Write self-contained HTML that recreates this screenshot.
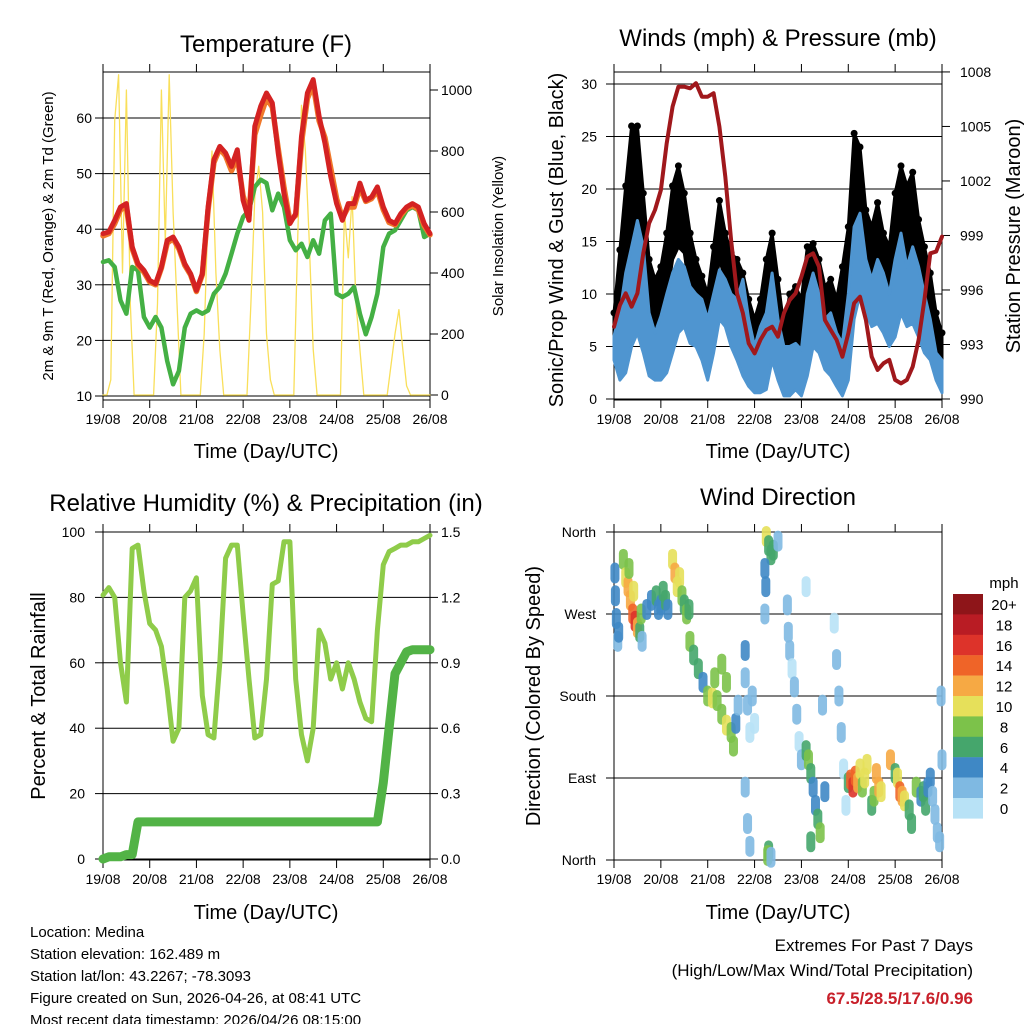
<!DOCTYPE html>
<html><head><meta charset="utf-8"><style>
html,body{margin:0;padding:0;background:#fff;}
svg{display:block;font-family:"Liberation Sans",sans-serif;}
</style></head><body>
<svg id="chart" width="1024" height="1024" viewBox="0 0 1024 1024" xmlns="http://www.w3.org/2000/svg"></svg>
<script>
// ---------- DATA (3-hourly, t = k/8 days from 19/08 00 UTC) ----------
const dayLabels = ["19/08","20/08","21/08","22/08","23/08","24/08","25/08","26/08"];
const tempRed = [39.2,39.5,41.6,44,44.6,36.8,33.8,32.6,30.8,30.2,33.2,38,38.6,36.8,33.8,32,29,32,44,52.5,54.9,53.7,51.3,54.3,45.2,41.6,58.5,62.1,64.5,62.7,53.7,46.4,41,42.8,56.7,64.5,66.9,60.3,55.5,49.5,44.6,41.6,44.6,44.6,48.3,45.2,45.8,47.6,44,41.6,41,42.8,44,44.6,44,41,39.2];
const tempOrange = [38.8,39.2,41,43.5,44,36.5,33.5,32.3,30.5,30,33,37.5,38.3,36.5,33.5,31.8,28.8,31.8,43.5,52,54.5,53.2,50.5,53,46,42.5,57,60.5,63.5,62,54.5,47.5,41.5,42.5,55.5,63.5,66,59.5,56.5,51,45.5,42,44,44,47.5,45,45.5,47,43.5,41.2,40.8,42.5,43.8,44.2,43.6,40.6,39];
const dewGreen = [34.1,34.4,33.2,27.2,24.8,33.2,32.6,24.2,22.3,24.2,22.3,16.3,12.1,14.5,22.3,24.8,25.4,24.8,25.4,28.4,29.6,32,35.6,39.2,42.2,43.4,47.6,48.9,48.3,43.4,46.4,44,38,36.2,37.4,35,38,35.6,41.6,42.8,28.4,27.8,28.4,29.6,24.8,21.1,24.2,28.4,36.8,39.2,39.8,41.6,43.4,44,43.4,38.6,39.2];
// solar insolation, 2-hourly (t = k/12)
const solar = [0,0,50,900,1050,400,1000,300,0,0,0,0, 0,0,300,1000,500,1050,600,300,0,0,0,0, 0,0,200,600,800,400,150,0,0,0,0,0, 0,0,300,650,750,600,200,50,0,0,0,0, 0,0,500,950,800,500,150,0,0,0,0,0, 0,0,600,450,650,300,150,0,0,0,0,0, 0,0,100,200,280,150,30,0,0,0,0,0, 0];
const pressure = [993.98,995.17,995.82,995.08,995.82,998.02,999.67,1000.4,1001.5,1004.07,1006.09,1007.19,1007.19,1007.1,1007.38,1006.64,1006.64,1006.83,1004.99,1002.24,998.75,995.82,994.72,993.06,992.51,993.25,993.8,993.98,993.43,994.72,995.45,995.82,996.73,997.83,998.02,997.28,994.35,993.8,993.25,992.33,993.61,995.27,995.63,994.35,992.33,991.6,991.96,992.15,991.05,990.86,991.05,991.78,993.25,995.45,998.02,998.11,998.94];
const windHigh = [6,8.2,12,14.5,17,14.5,8.2,6.3,7.9,10,12,13.3,12.6,10.7,10,9.5,7.6,10,12.3,11.4,10,9.5,11.4,7.6,5,6.9,8.2,12,7.6,5,5,5.3,4.7,10,12,10,7.6,8.2,6.3,5.3,10,16.4,17.7,13.3,11.4,13.3,12,10,13.3,15.8,12.6,14.5,12.6,10,7.6,4.4,3.7];
const windLow = [3.7,1.8,2.5,5,6.3,4.4,2.2,1.8,1.8,2.5,4.4,6.3,6.9,5.3,5,3.7,1.8,4.4,7.6,6.9,5,3.7,2.2,1.2,0.6,0.6,0.9,3.7,1.8,0.3,0.3,0.9,0.3,2.2,5,4.4,2.8,2.2,1.2,0.3,1.8,7.6,10,8.2,6.9,7.2,6.3,5,5.9,8.2,6.9,7.2,5.9,4.4,3.7,1.8,0.6];
const gustHigh = [8.2,14.2,20.3,26,26,19.6,13.3,11.4,12.6,15.8,20.3,22.2,19.6,15.8,13.3,11.7,10,14.5,18.9,15.8,13.9,13.3,12,9.5,7.6,9.5,13.3,15.8,11.4,6.9,10,10.7,9.5,14.5,14.8,13.3,10.7,11.4,9.5,12.6,16.4,25.3,24,18,16.4,18.7,15.8,14.5,19.6,22.2,20.3,21.6,17.1,14.5,12,8.2,6.3];
const gustLow = [5,7.6,12,14.5,16.4,12.6,6,6.3,7.6,9.5,13.3,14.5,13.9,10,8.8,7.6,5.3,9.5,13.3,11.4,9.5,8.2,6.3,3.7,1.8,3.1,5.3,8.5,3.7,2.2,3.1,3.7,2.2,6.9,8.8,7.6,5.7,5.3,3.7,3.7,6.9,16.4,15.8,11.4,10,12,10.7,8.8,12,14.5,12.6,13.3,10,8.2,6.3,3.7,1.8];
const rh = [80.7,83,80,60,48,95,96,82,72,70,65,52,36,40,80,82,86,50,38,37,60,92,96,96,75,55,37,38,55,84,85,97,97,55,38,30,40,70,66,55,60,52,60,55,48,43,42,70,90,94,95,96,96,97,97,98,99];
const precip = [0,0.01,0.01,0.01,0.02,0.02,0.17,0.17,0.17,0.17,0.17,0.17,0.17,0.17,0.17,0.17,0.17,0.17,0.17,0.17,0.17,0.17,0.17,0.17,0.17,0.17,0.17,0.17,0.17,0.17,0.17,0.17,0.17,0.17,0.17,0.17,0.17,0.17,0.17,0.17,0.17,0.17,0.17,0.17,0.17,0.17,0.17,0.17,0.35,0.6,0.85,0.9,0.95,0.96,0.96,0.96,0.96];
// wind direction scatter
const dirT = [0.02,0.03,0.05,0.08,0.1, 0.2,0.25,0.3,0.35,0.4,0.45,0.5,0.55,0.42,0.32,0.6,0.58, 0.7,0.8,0.9,0.95,1.0,1.05,1.1,1.15, 1.25,1.3,1.35,1.4,1.45,1.5,1.55,1.6, 1.62,1.7,1.8,1.9,2.0,2.1,2.15,2.2,2.3,2.4,2.5,2.55,2.3,2.4,2.6,2.65, 2.8,2.85,2.9,2.95,3.0,2.8,2.85,2.9,2.8, 3.25,3.3,3.35,3.22,3.24,3.4,3.5,3.22,3.3,3.28,3.35, 3.7,3.75,3.8,3.85,3.9,3.95,4.0,4.1,3.72, 4.1,4.15,4.2,4.25,4.3,4.35,4.4,4.5,4.45,4.2, 4.7,4.75,4.8,4.85,4.9,4.95, 5.0,5.05,5.1,5.15,5.2,5.25,5.3,5.35,5.4,5.5,5.55,5.6,5.65,5.7, 5.9,6.0,6.05,6.1,6.15,6.2,6.3,6.35,6.45,6.55, 6.6,6.65,6.7,6.75,6.8,6.85,6.9,6.95,7.0,6.98];
const dirDeg = [315,290,265,240,250, 330,310,300,285,270,262,255,250,295,320,240,270, 275,285,290,275,280,295,285,275, 330,315,300,310,290,280,270,275, 240,225,210,195,180,178,200,175,160,148,140,125,215,195,150,170, 200,170,140,180,150,80,40,15,230, 355,345,335,320,300,340,350,270,10,5,3, 280,230,210,190,160,130,110,300,250, 120,110,95,80,60,45,30,75,170,20, 260,220,180,140,100,60, 85,88,80,92,85,100,80,90,105,60,70,95,80,75, 110,95,90,75,70,65,55,40,80,70, 75,60,80,90,70,50,30,20,110,180];
const dirSpd = [4,4,4,3,4, 8,10,12,13,14,17,12,6,11,9,2,8, 4,5,6,4,5,6,6,4, 11,12,10,10,8,6,8,6, 8,7,6,4,8,10,9,8,8,10,8,8,8,9,4,3, 2,2,1,2,1,2,2,2,4, 10,7,6,4,4,6,2,3,6,8,2, 2,2,1,2,2,1,2,1,2, 7,8,6,5,4,7,8,4,3,6, 1,2,2,2,1,1, 6,14,17,15,12,10,8,10,11,6,8,12,13,10, 12,6,10,14,13,10,6,6,8,5, 7,6,4,4,3,3,2,2,2,3];
const speedBins = ["0","2","4","6","8","10","12","14","16","18","20+"];
const speedColors = ["#b8e2f6","#7fb9e2","#3f88c5","#45a66c","#7cc24a","#e6e05a","#f6a944","#ef6428","#dd332a","#b91c24","#8e1519"];

// ---------- helpers ----------
const NS="http://www.w3.org/2000/svg";
const svg=document.getElementById('chart');
function mk(tag,attrs,parent){const e=document.createElementNS(NS,tag);for(const k in attrs)e.setAttribute(k,attrs[k]);(parent||svg).appendChild(e);return e;}
function txt(s,x,y,size,anchor,parent,extra){const e=mk('text',Object.assign({x:x,y:y,'font-size':size,'text-anchor':anchor||'middle',fill:'#000'},extra||{}),parent);e.textContent=s;return e;}
function tx(p,t){return p.x0+t/7*(p.x1-p.x0);}

const P1={x0:103,x1:430,y0:72,y1:400}, P2={x0:614,x1:942,y0:72,y1:400}, P3={x0:103,x1:430,y0:532,y1:860}, P4={x0:614,x1:942,y0:532,y1:860};
const yT=v=>396-(v-10)*5.56, yS=v=>395-v*0.305, yW=v=>399-v*10.5, yP=v=>399-(v-990)*18.17, yRH=v=>859-v*3.27, yPr=v=>859-v*218, yD=v=>860-v/360*328;

function frame(p,name){
  const g=mk('g',{});
  
  
  mk('rect',{x:p.x0,y:p.y0,width:p.x1-p.x0,height:p.y1-p.y0,fill:'none',stroke:'#000','stroke-width':1},g);
  for(let d=0;d<=7;d++){const x=tx(p,d);
    mk('line',{x1:x,x2:x,y1:p.y1,y2:p.y1+8,stroke:'#000'},g);
    mk('line',{x1:x,x2:x,y1:p.y0,y2:p.y0-8,stroke:'#000'},g);
    const l=txt(dayLabels[d],x,p.y1+24,14,'middle',g);
    
    
  }
  return g;
}
function hgrid(p,ys,g,color){ys.forEach(y=>mk('line',{x1:p.x0,x2:p.x1,y1:y,y2:y,stroke:color||'#000','stroke-width':1},g));}
function ticksLeft(p,vals,fy,labels,g,lx){vals.forEach((v,i)=>{const y=fy(v);mk('line',{x1:p.x0-8,x2:p.x0,y1:y,y2:y,stroke:'#000'},g);const l=txt(labels[i],lx,y+5,14,'end',g);});}
function ticksRight(p,vals,fy,labels,g,lx){vals.forEach((v,i)=>{const y=fy(v);mk('line',{x1:p.x1,x2:p.x1+8,y1:y,y2:y,stroke:'#000'},g);const l=txt(labels[i],lx,y+5,14,'start',g);});}
function line(p,arr,fy,step,color,w,name){const pts=arr.map((v,i)=>tx(p,i*step).toFixed(1)+','+fy(v).toFixed(1)).join(' ');const e=mk('polyline',{points:pts,fill:'none',stroke:color,'stroke-width':w,'stroke-linejoin':'round','stroke-linecap':'round'});return e;}
function band(p,hi,lo,fy,step,color,name){let pts=hi.map((v,i)=>tx(p,i*step).toFixed(1)+','+fy(v).toFixed(1));for(let i=lo.length-1;i>=0;i--)pts.push(tx(p,i*step).toFixed(1)+','+fy(lo[i]).toFixed(1));const e=mk('polygon',{points:pts.join(' '),fill:color,stroke:color,'stroke-width':3,'stroke-linejoin':'round'});return e;}
function rotText(s,x,y,size,name){const e=txt(s,x,y,size,'middle',svg,{transform:`rotate(-90 ${x} ${y})`});return e;}
function title(s,x,y,size,name){const e=txt(s,x,y,size,'middle');return e;}

// ---------- Panel 1: Temperature ----------
let g=frame(P1,'temperature-panel');
hgrid(P1,[10,20,30,40,50,60].map(yT),g,'#000');
ticksLeft(P1,[10,20,30,40,50,60],yT,["10","20","30","40","50","60"],g,92);
ticksRight(P1,[0,200,400,600,800,1000],yS,["0","200","400","600","800","1000"],g,441);
line(P1,solar,yS,7/84,'#f9df5a',1.3,'solar-insolation-line');
line(P1,dewGreen,yT,0.125,'#44b044',4.5,'dewpoint-line');
line(P1,tempOrange,yT,0.125,'#f0782a',5.5,'temp-9m-line');
line(P1,tempRed,yT,0.125,'#d42222',5,'temp-2m-line');
title('Temperature (F)',266,52,24,'temperature-title');
title('Time (Day/UTC)',266,458,20,'temperature-x-title');
rotText('2m & 9m T (Red, Orange) & 2m Td (Green)',53,236,15,'temperature-y-title');
rotText('Solar Insolation (Yellow)',503,236,15,'solar-y-title');

// ---------- Panel 2: Winds ----------
g=frame(P2,'winds-panel');
hgrid(P2,[0,5,10,15,20,25,30].map(yW),g,'#000');
ticksLeft(P2,[0,5,10,15,20,25,30],yW,["0","5","10","15","20","25","30"],g,597);
ticksRight(P2,[990,993,996,999,1002,1005,1008],yP,["990","993","996","999","1002","1005","1008"],g,960);
band(P2,gustHigh,gustLow,yW,0.125,'#000','gust-band');
gustHigh.forEach((v,i)=>{const c=mk('circle',{cx:tx(P2,i*0.125),cy:yW(v),r:3.5,fill:'#000'});});
band(P2,windHigh,windLow,yW,0.125,'#4f95d0','wind-band');
line(P2,pressure,yP,0.125,'#a0181c',4,'pressure-line');
title('Winds (mph) & Pressure (mb)',778,46,24,'winds-title');
title('Time (Day/UTC)',778,458,20,'winds-x-title');
rotText('Sonic/Prop Wind & Gust (Blue, Black)',563,240,20,'winds-y-title');
rotText('Station Pressure (Maroon)',1020,236,20,'pressure-y-title');

// ---------- Panel 3: RH & Precip ----------
g=frame(P3,'humidity-panel');
hgrid(P3,[0,20,40,60,80,100].map(yRH),g,'#000');
ticksLeft(P3,[0,20,40,60,80,100],yRH,["0","20","40","60","80","100"],g,85);
ticksRight(P3,[0,0.3,0.6,0.9,1.2,1.5],yPr,["0.0","0.3","0.6","0.9","1.2","1.5"],g,441);
line(P3,rh,yRH,0.125,'#8fcc4a',5,'humidity-line');
line(P3,precip,yPr,0.125,'#52b346',9,'precipitation-line');
title('Relative Humidity (%) & Precipitation (in)',266,511,24,'humidity-title');
title('Time (Day/UTC)',266,919,20,'humidity-x-title');
rotText('Percent & Total Rainfall',45,696,20,'humidity-y-title');

// ---------- Panel 4: Wind direction ----------
g=frame(P4,'direction-panel');
hgrid(P4,[0,90,180,270,360].map(yD),g,'#000');
ticksLeft(P4,[360,270,180,90,0],yD,["North","West","South","East","North"],g,596);
function binIndex(s){return Math.min(10,Math.floor(s/2));}
dirT.forEach((t,i)=>{const x=tx(P4,t), y=yD(dirDeg[i]);
  const c=mk('line',{x1:x,x2:x,y1:y-6,y2:y+6,stroke:speedColors[binIndex(dirSpd[i])],'stroke-width':9,'stroke-linecap':'round','stroke-opacity':0.9});
  
  
});
title('Wind Direction',778,505,24,'direction-title');
title('Time (Day/UTC)',778,919,20,'direction-x-title');
rotText('Direction (Colored By Speed)',540,696,20,'direction-y-title');

// legend
const lg=mk('g',{});


const lt=txt('mph',1004,588,15,'middle',lg);


for(let i=0;i<11;i++){const bi=10-i;const y=594+i*20.4;
  const r=mk('rect',{x:953,y:y,width:30,height:20.6,fill:speedColors[bi]},lg);
  
  
  const l=txt(speedBins[bi],1004,y+16,15,'middle',lg);
  
  
}

// ---------- Footer ----------
const info=["Location: Medina","Station elevation: 162.489 m","Station lat/lon: 43.2267; -78.3093","Figure created on Sun, 2026-04-26, at 08:41 UTC","Most recent data timestamp: 2026/04/26 08:15:00"];
info.forEach((s,i)=>{const e=txt(s,30,937+i*22,15,'start');});
let e=txt('Extremes For Past 7 Days',973,951,17,'end');


e=txt('(High/Low/Max Wind/Total Precipitation)',973,976,17,'end');


e=txt('67.5/28.5/17.6/0.96',973,1004,17,'end',svg,{'font-weight':'bold',fill:'#c8202a'});


</script>
</body></html>
